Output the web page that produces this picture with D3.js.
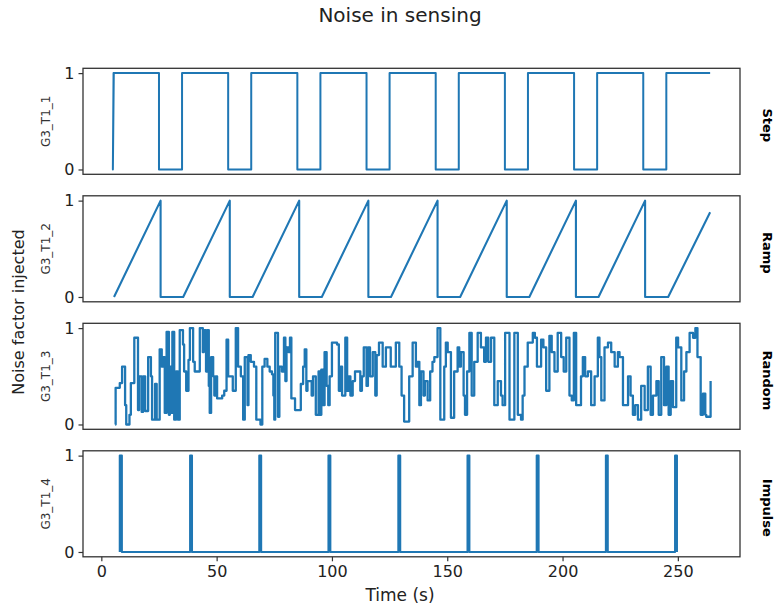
<!DOCTYPE html>
<html><head><meta charset="utf-8">
<script src="https://cdn.jsdelivr.net/npm/d3@7"></script>
<style>body{margin:0;background:#fff}svg{display:block}text{font-family:"DejaVu Sans",sans-serif}</style>
</head><body><svg id="c" width="778" height="610"></svg>
<script>
// ---- data ----
const title = "Noise in sensing";
const xLabel = "Time (s)";
const yLabel = "Noise factor injected";
const panelNames = ["G3_T1_1", "G3_T1_2", "G3_T1_3", "G3_T1_4"];
const panelTypes = ["Step", "Ramp", "Random", "Impulse"];
const xTicks = [0, 50, 100, 150, 200, 250];
const yTicks = [0, 1];

const stepT = [5,5.3,5,5.4,25,25,35,35,55,55,65,65,85,85,95,95,115,115,125,125,145,145,155,155,175,175,185,185,205,205,215,215,235,235,245,245,264];
const stepV = [0,1,0,1,1,0,0,1,1,0,0,1,1,0,0,1,1,0,0,1,1,0,0,1,1,0,0,1,1,0,0,1,1,0,0,1,1];

const rampT = [5.5,25.7,25.7,35.5,55.7,55.7,65.6,85.8,85.8,95.6,115.8,115.8,125.6,145.8,145.8,155.6,175.8,175.8,185.6,205.8,205.8,215.6,235.8,235.8,245.8,264];
const rampV = [0,1,0,0,1,0,0,1,0,0,1,0,0,1,0,0,1,0,0,1,0,0,1,0,0,0.88];

const randT = [6,6.2,8,9,10.3,10.8,12.2,12.8,14.3,15.9,16.4,17.5,18.1,19,20.3,21.5,22,23.3,24,25.3,26.2,26.8,27.5,28.3,29.3,29.7,30.2,30.8,31.6,32.4,33.2,34,35.4,35.9,36.8,37.8,38.4,39.8,40.5,42.7,44,44.4,45.4,46,46.6,47,47.6,48.5,49,49.6,50.2,52.4,53.3,54.3,55,57,58.3,59.3,60.5,61.5,62.2,63.4,63.8,64.8,66.2,67.2,69,69.8,70.8,72,73,74,74.6,75,75.4,76.6,77.2,78.3,79.2,79.8,80.3,81.2,81.8,82.4,84,86.5,87.5,88.2,88.9,89.4,91.2,91.8,93,94.2,94.8,95.4,96.2,96.8,97.7,98.4,99,100,102.2,103,103.8,104.4,105.8,106.6,107.3,108,109,110,112.3,113,113.8,115,115.6,116.5,117.7,118.8,119.4,120.4,122,123.4,125.5,127.7,129.2,130.2,131.3,133.5,135,136.4,137.1,137.9,138.6,139.7,140.3,141.5,142.6,143.6,144.4,145.8,147,148.7,149.4,150.2,151.6,153,154.5,155.2,155.9,157.1,157.7,158.6,159.6,160.6,161.7,163.2,164.6,166,166.8,167.8,169,170.4,171.9,173.3,174,175.1,177,179.1,180.6,182,182.7,183.5,184.9,187.1,188,188.9,190.7,191.7,192.9,194.3,195.3,196.5,197.9,199.4,200.5,201.6,203,204,204.9,205.9,208,208.8,209.8,211,212.4,213.9,215.3,216,216.8,218.2,219.7,221.1,222.6,224,224.7,226.2,228.4,229.5,230.5,231.5,232.7,234.1,235.6,237,238.2,239.2,240.7,241.7,242.8,244,245,246,246.9,247.9,249.3,250.1,251.5,252.7,253.7,255.1,256.6,257.6,258.5,259.9,260.9,261.9,262.3,264.2];
const randV = [0,0.38,0.43,0.6,0.2,0,0.1,0.43,0.9,0.15,0.5,0.13,0.5,0.14,0.7,0.5,0.05,0.42,0.05,0.78,0.6,0.7,0.12,0.96,0.1,0.6,0.12,0.96,0.05,0.55,0.05,0.98,0.83,0.55,0.35,0.67,1,0.65,0.55,1,0.75,0.98,0.55,0.98,0.4,0.12,0.7,0.5,0.3,0.5,0.27,0.3,0.35,0.88,0.5,0.35,1,0.6,0.5,0.05,0.7,0.2,0.72,0.65,0.6,0.05,0,0.6,0.68,0.6,0.55,0.52,0.3,0.05,0.95,0.08,0.6,0.55,0.9,0.45,0.8,0.75,0.9,0.27,0.15,0.42,0.6,0.78,0.35,0.45,0.3,0.5,0.1,0.55,0.1,0.57,0.2,0.75,0.4,0.2,0.5,0.85,0.83,0.35,0.6,0.3,0.9,0.35,0.5,0.3,0.45,0.55,0.35,0.5,0.8,0.4,0.8,0.5,0.75,0.3,0.72,0.85,0.6,0.8,0.6,0.85,0.6,0.3,0.03,0.5,0.85,0.6,0.65,0.2,0.55,0.3,0.45,0.25,0.55,0.65,0.7,1,0.05,0.6,0.85,0.75,0.07,0.55,0.8,0.6,0.75,0.3,0.1,0.55,0.95,0.3,0.65,0.95,0.8,0.65,0.9,0.65,0.9,0.2,0.45,0.3,0.2,0.95,0.05,0.95,0.1,0.05,0.3,0.6,0.85,0.95,0.9,0.6,0.88,0.8,0.35,0.92,0.75,0.55,0.95,0.7,0.55,0.9,0.3,0.25,0.95,0.2,0.5,0.7,0.5,0.55,0.2,0.5,0.9,0.7,0.25,0.8,0.85,0.75,0.6,0.75,0.7,0.2,0.5,0.3,0.1,0.2,0.05,0.4,0.15,0.6,0.1,0.3,0.45,0.1,0.7,0.2,0.6,0.1,0.45,0.18,0.9,0.8,0.25,0.55,0.75,0.95,0.9,1,0.7,0.1,0.32,0.1,0.08,0.45,0.45];

const impT = [8,8,8.9,8.9,38.5,38.5,39.3,39.3,68.5,68.5,69.3,69.3,98.5,98.5,99.3,99.3,128.8,128.8,129.6,129.6,158.8,158.8,159.6,159.6,188.8,188.8,189.6,189.6,218.8,218.8,219.6,219.6,248.8,248.8,249.6,249.6];
const impV = [0,1,1,0,0,1,1,0,0,1,1,0,0,1,1,0,0,1,1,0,0,1,1,0,0,1,1,0,0,1,1,0,0,1,1,0];

const series = [
  {t: stepT, v: stepV, curve: d3.curveLinear, w: 2},
  {t: rampT, v: rampV, curve: d3.curveLinear, w: 2.1},
  {t: randT, v: randV, curve: d3.curveStepAfter, w: 2.3},
  {t: impT, v: impV, curve: d3.curveLinear, w: 2.1}
];

// ---- layout ----
const left = 83, right = 740;
const top0 = 68.3, ph = 106, gap = 21.5;
const color = "#1f77b4";
const svg = d3.select("#c");

const x = d3.scaleLinear().domain([-7.95, 276.95]).range([left, right]);

svg.append("text").attr("x", 400).attr("y", 22).attr("text-anchor", "middle")
  .attr("font-size", 20).attr("fill", "#222").text(title);

series.forEach((s, i) => {
  const top = top0 + i * (ph + gap);
  const y = d3.scaleLinear().domain([-0.05, 1.05]).range([top + ph, top]);
  const g = svg.append("g");
  const pts = s.t.map((t, k) => [t, s.v[k]]);
  const line = d3.line().x(d => x(d[0])).y(d => y(d[1])).curve(s.curve);
  g.append("path").attr("d", line(pts)).attr("fill", "none")
    .attr("stroke", color).attr("stroke-width", s.w).attr("stroke-linejoin", "round");

  g.append("rect").attr("x", left).attr("y", top).attr("width", right - left).attr("height", ph)
    .attr("fill", "none").attr("stroke", "#333").attr("stroke-width", 1.3);

  const ya = g.append("g").attr("transform", `translate(${left},0)`)
    .call(d3.axisLeft(y).tickValues(yTicks).tickFormat(d3.format("d")).tickSize(4.5).tickPadding(4));
  ya.select(".domain").remove();
  ya.selectAll("line").attr("stroke", "#333").attr("stroke-width", 1.2);
  ya.selectAll("text").attr("font-size", 16).attr("fill", "#222").attr("font-family", "DejaVu Sans");

  g.append("text").attr("transform", `translate(50,${top + ph / 2}) rotate(-90)`)
    .attr("text-anchor", "middle").attr("font-size", 12).attr("fill", "#333").text(panelNames[i]);

  g.append("text").attr("transform", `translate(763,${top + ph / 2 + 4}) rotate(90)`)
    .attr("text-anchor", "middle").attr("font-size", 13).attr("font-weight", "bold")
    .attr("font-family", "Liberation Sans, Arial, sans-serif").attr("fill", "#000").text(panelTypes[i]);

  if (i === 3) {
    const xa = g.append("g").attr("transform", `translate(0,${top + ph})`)
      .call(d3.axisBottom(x).tickValues(xTicks).tickSize(4.5).tickPadding(4));
    xa.select(".domain").remove();
    xa.selectAll("line").attr("stroke", "#333").attr("stroke-width", 1.2);
    xa.selectAll("text").attr("font-size", 16).attr("fill", "#222").attr("font-family", "DejaVu Sans");
  }
});

svg.append("text").attr("x", 400).attr("y", 601).attr("text-anchor", "middle")
  .attr("font-size", 17).attr("fill", "#222").text(xLabel);
svg.append("text").attr("transform", "translate(24,312) rotate(-90)")
  .attr("text-anchor", "middle").attr("font-size", 16).attr("fill", "#222").text(yLabel);
</script></body></html>
